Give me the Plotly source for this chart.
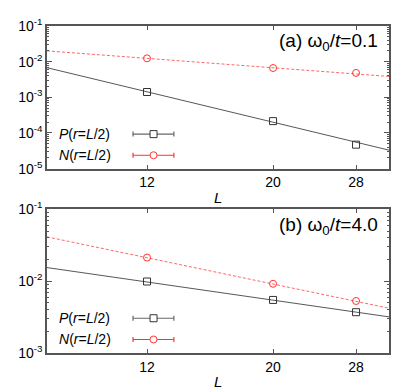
import numpy as np
import plotly.graph_objects as go

# ---- data ----
L_vals = [12, 20, 28]
P_a = [1.41e-3, 2.15e-4, 4.7e-5]
N_a = [1.24e-2, 6.64e-3, 4.84e-3]
P_b = [9.9e-3, 5.48e-3, 3.7e-3]
N_b = [2.13e-2, 9.2e-3, 5.3e-3]

# power-law fits  y = A * L^(-b)
fit_P_a = (19.9, 3.84)
fit_N_a = (0.238, 1.19)
fit_P_b = (0.1656, 1.14)
fit_N_b = (1.28, 1.65)

x_range = [8, 32]
x_ticks = [12, 20, 28]
y_ticks_a = [1e-5, 1e-4, 1e-3, 1e-2, 1e-1]
y_ticks_b = [1e-3, 1e-2, 1e-1]
titles = ["(a) ω<sub>0</sub>/<i>t</i>=0.1", "(b) ω<sub>0</sub>/<i>t</i>=4.0"]
leg_P = "<i>P</i>(<i>r</i>=<i>L</i>/2)"
leg_N = "<i>N</i>(<i>r</i>=<i>L</i>/2)"

BLACK = "#333333"
RED = "#ff3333"
FONT = "Liberation Sans, Arial, sans-serif"

fig = go.Figure()
Lf = np.geomspace(x_range[0], x_range[1], 60)

panels = [
    ("x", "y", P_a, N_a, fit_P_a, fit_N_a),
    ("x2", "y2", P_b, N_b, fit_P_b, fit_N_b),
]
for xa, ya, P, N, fP, fN in panels:
    fig.add_trace(go.Scatter(x=Lf, y=fP[0] * Lf ** (-fP[1]), mode="lines",
                             line=dict(color="#444444", width=0.9), xaxis=xa, yaxis=ya,
                             showlegend=False, hoverinfo="skip"))
    fig.add_trace(go.Scatter(x=Lf, y=fN[0] * Lf ** (-fN[1]), mode="lines",
                             line=dict(color="#ff5555", width=0.9, dash="3px,2px"), xaxis=xa, yaxis=ya,
                             showlegend=False, hoverinfo="skip"))
    fig.add_trace(go.Scatter(x=L_vals, y=P, mode="markers",
                             marker=dict(symbol="square-open", size=7, color=BLACK,
                                         line=dict(width=1)),
                             xaxis=xa, yaxis=ya, showlegend=False))
    fig.add_trace(go.Scatter(x=L_vals, y=N, mode="markers",
                             marker=dict(symbol="circle-open", size=7, color=RED,
                                         line=dict(width=1)),
                             xaxis=xa, yaxis=ya, showlegend=False))

def minor_vals(lo_exp, hi_exp):
    out = []
    for e in range(lo_exp, hi_exp):
        for m in range(2, 10):
            out.append(m * 10 ** e)
    return out

axis_common = dict(showline=True, linecolor="#555555", linewidth=1.5, mirror="ticks",
                   ticks="inside", tickcolor="#555555", showgrid=False, zeroline=False,
                   tickfont=dict(family=FONT, size=14, color="black"))

fig.update_layout(
    width=407, height=384,
    margin=dict(l=39, r=26, t=8, b=39),
    paper_bgcolor="white", plot_bgcolor="white",
    font=dict(family=FONT, size=14, color="black"),
    xaxis=dict(type="log", range=[np.log10(x_range[0]), np.log10(x_range[1])],
               tickvals=x_ticks, ticktext=[str(v) for v in x_ticks], ticklen=4,
               domain=[0, 1], anchor="y", **axis_common),
    yaxis=dict(type="log", range=[-5, -1], tickvals=y_ticks_a,
               ticktext=["10<sup>%d</sup>" % int(np.log10(v)) for v in y_ticks_a],
               ticklen=5, domain=[0.5638, 1], anchor="x",
               minor=dict(tickvals=minor_vals(-5, -1), ticklen=2.5, ticks="inside",
                          tickcolor="#555555"),
               **axis_common),
    xaxis2=dict(type="log", range=[np.log10(x_range[0]), np.log10(x_range[1])],
                tickvals=x_ticks, ticktext=[str(v) for v in x_ticks], ticklen=4,
                domain=[0, 1], anchor="y2", **axis_common),
    yaxis2=dict(type="log", range=[-3, -1], tickvals=y_ticks_b,
                ticktext=["10<sup>%d</sup>" % int(np.log10(v)) for v in y_ticks_b],
                ticklen=5, domain=[0, 0.4392], anchor="x2",
                minor=dict(tickvals=minor_vals(-3, -1), ticklen=2.5, ticks="inside",
                           tickcolor="#555555"),
                **axis_common),
)

shapes = []
annotations = []
for i, (xa, ya) in enumerate([("x", "y"), ("x2", "y2")]):
    xr, yr = xa + " domain", ya + " domain"
    # panel title
    annotations.append(dict(text=titles[i], xref=xr, yref=yr, x=0.975, y=0.885,
                            xanchor="right", yanchor="middle", showarrow=False,
                            font=dict(family=FONT, size=19, color="black")))
    # axis label
    annotations.append(dict(text="<i>L</i>", xref=xr, yref=yr, x=0.5, y=-0.2,
                            xanchor="center", yanchor="middle", showarrow=False,
                            font=dict(family=FONT, size=15, color="black")))
    # custom legend
    for label, yy, col, sym in [(leg_P, 0.242, "#666666", "rect"), (leg_N, 0.094, RED, "circle")]:
        annotations.append(dict(text=label, xref=xr, yref=yr, x=0.028, y=yy,
                                xanchor="left", yanchor="middle", showarrow=False,
                                font=dict(family=FONT, size=14, color="black")))
        x0, x1, xm = 0.2515, 0.371, 0.3115
        shapes.append(dict(type="line", xref=xr, yref=yr, x0=x0, x1=x1, y0=yy, y1=yy,
                           line=dict(color=col, width=1.2)))
        for xc in (x0, x1):
            shapes.append(dict(type="line", xref=xr, yref=yr, x0=xc, x1=xc,
                               ysizemode="pixel", yanchor=yy, y0=-2.5, y1=2.5,
                               line=dict(color=col, width=1.2)))
        shapes.append(dict(type=sym, xref=xr, yref=yr, xsizemode="pixel", ysizemode="pixel",
                           xanchor=xm, yanchor=yy, x0=-3.5, x1=3.5, y0=-3.5, y1=3.5,
                           fillcolor="white",
                           line=dict(color=BLACK if sym == "rect" else RED, width=1)))

fig.update_layout(shapes=shapes, annotations=annotations)
fig.write_html("out.html")
